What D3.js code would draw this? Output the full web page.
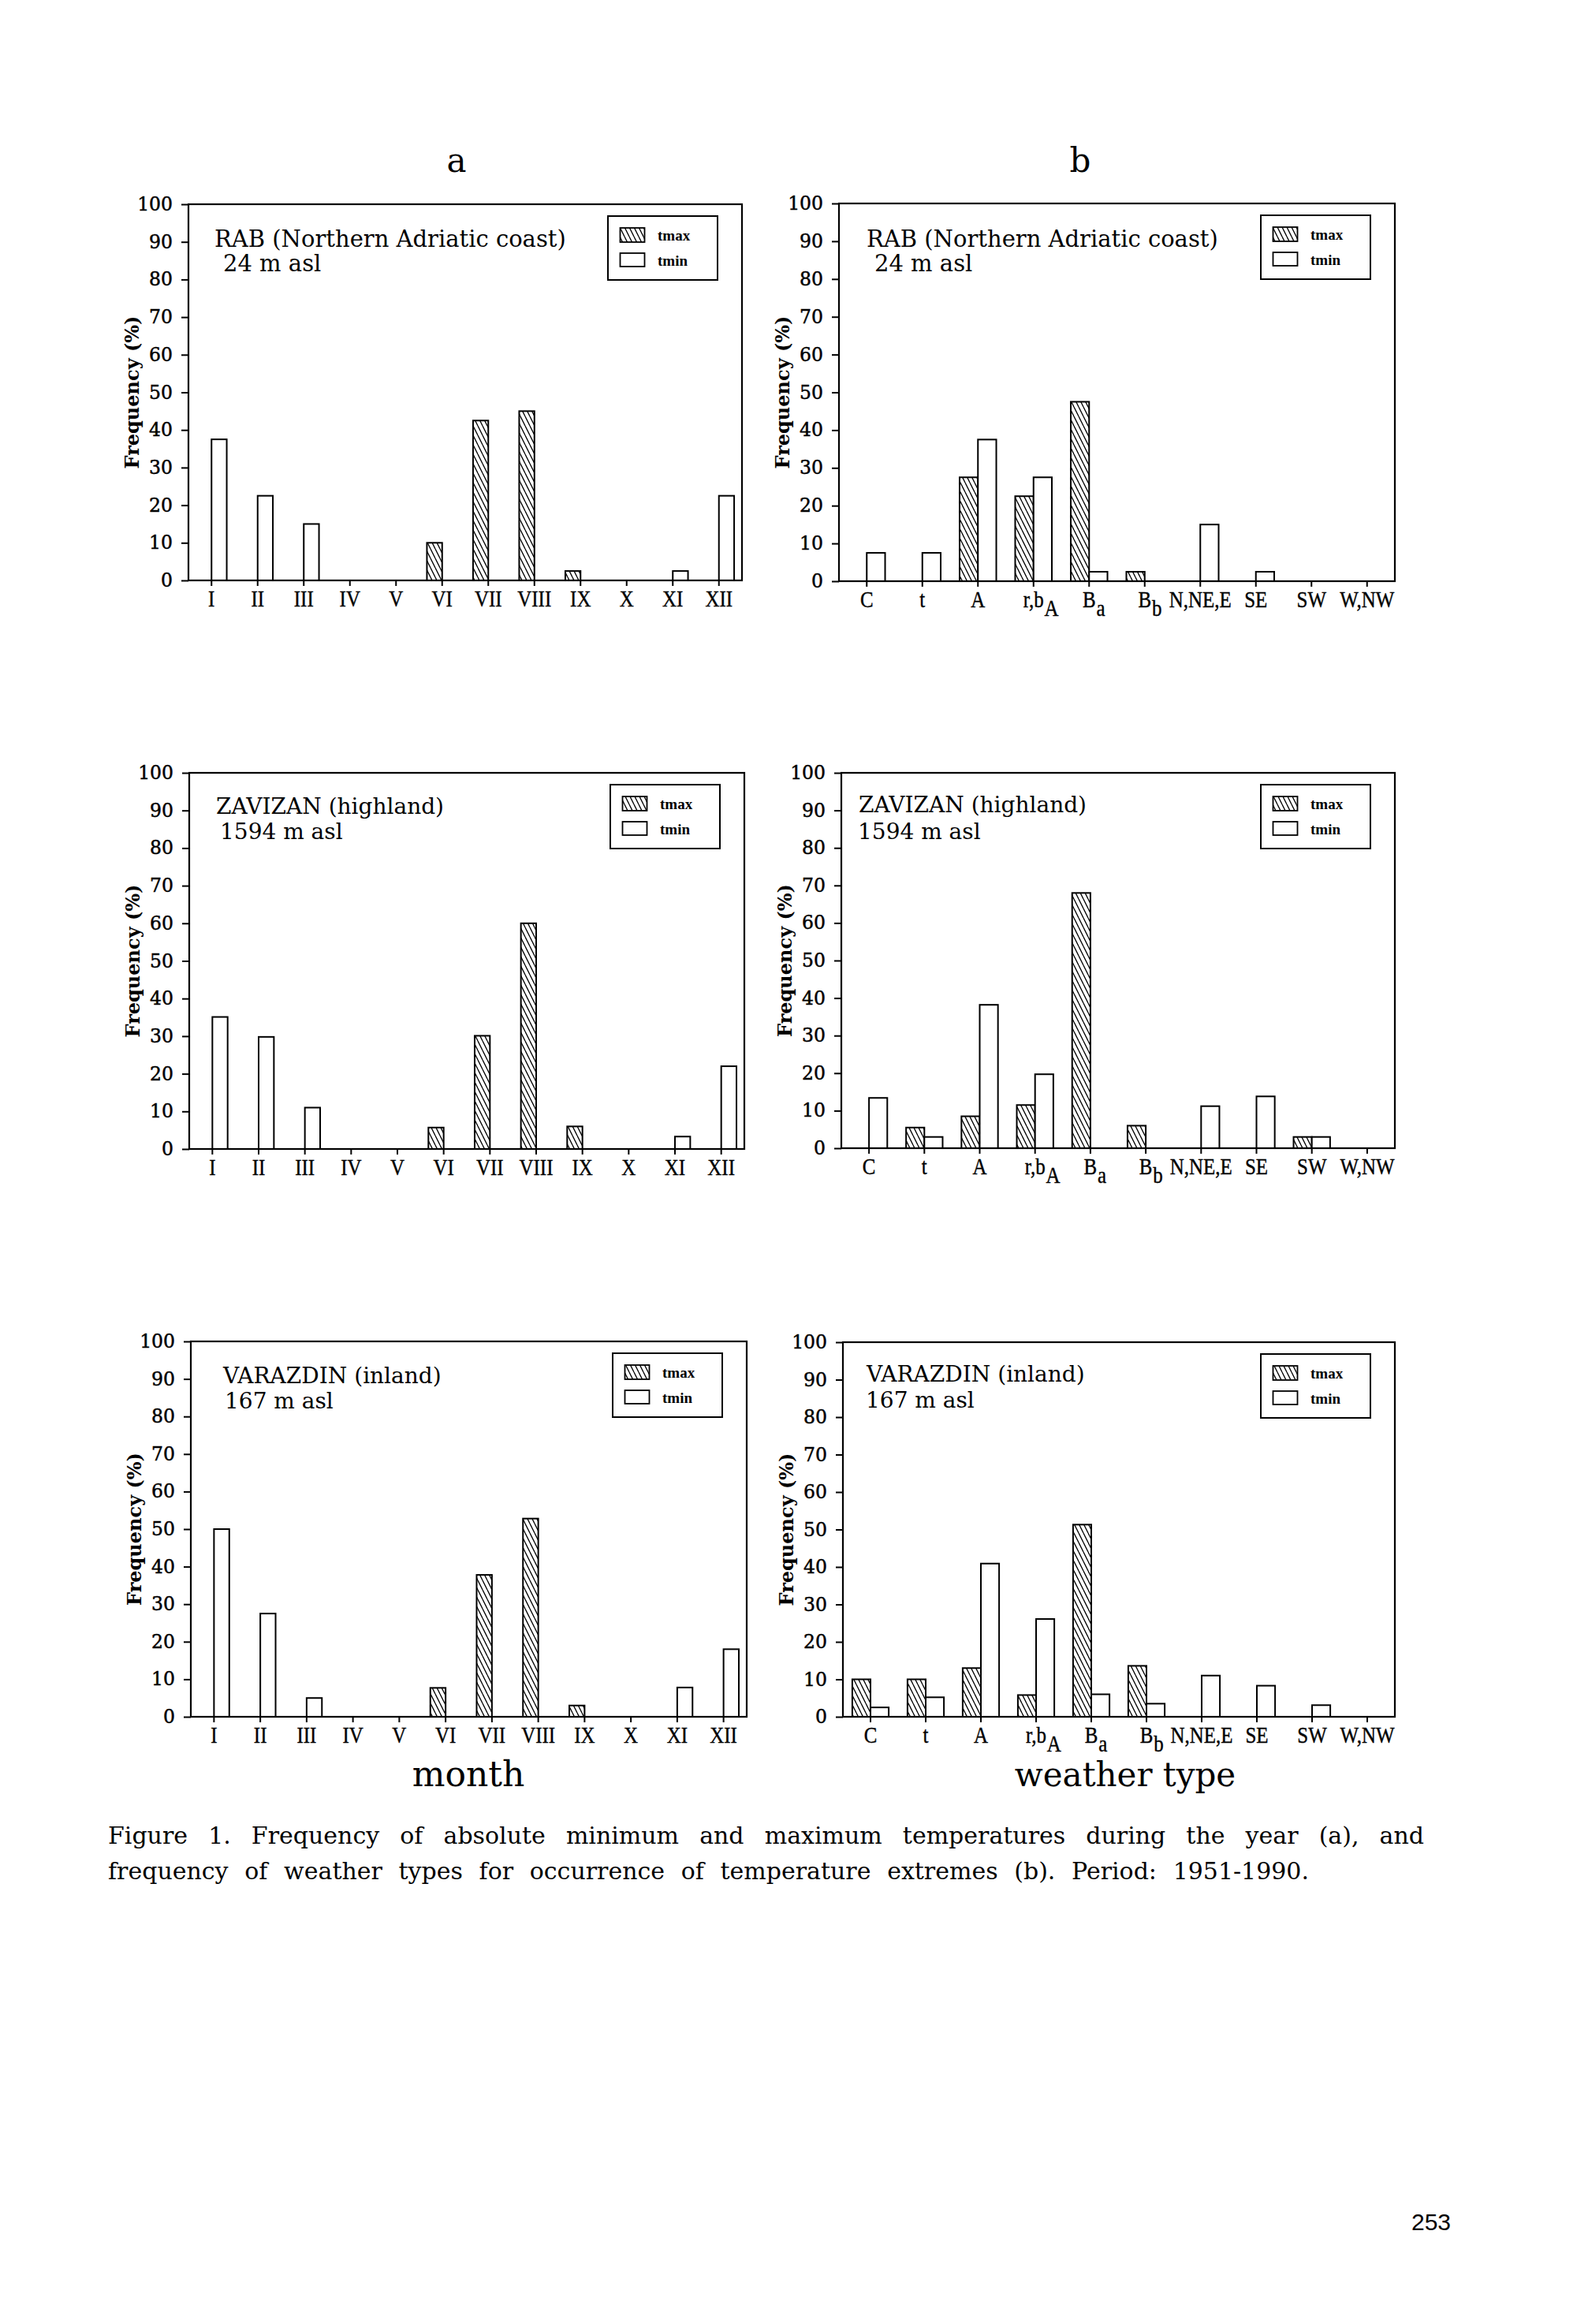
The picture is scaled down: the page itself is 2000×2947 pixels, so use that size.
<!DOCTYPE html>
<html><head><meta charset="utf-8">
<script src="https://cdn.jsdelivr.net/npm/d3@7"></script>
<style>html,body{margin:0;padding:0;background:#fff;} svg{display:block;}</style>
</head><body>
<svg id="fig" width="2000" height="2947"></svg>
<script>
// ---------- data ----------
const months = ["I","II","III","IV","V","VI","VII","VIII","IX","X","XI","XII"];
const weatherTypes = ["C","t","A","r,b_A","B_a","B_b","N,NE,E","SE","SW","W,NW"];
const yTickValues = [0,10,20,30,40,50,60,70,80,90,100];
const seriesNames = ["tmax","tmin"];
const columnTitles = ["a","b"];
const axisTitles = ["month","weather type"];
const yAxisTitle = "Frequency (%)";
const stationNames = ["RAB (Northern Adriatic coast)","ZAVIZAN (highland)","VARAZDIN (inland)"];
const stationAltitudes = ["24 m asl","1594 m asl","167 m asl"];
const captionLines = [
  "Figure 1. Frequency of absolute minimum and maximum temperatures during the year (a), and",
  "frequency of weather types for occurrence of temperature extremes (b). Period: 1951-1990."
];
const pageNumber = "253";

// month panels (a)
const rabMonthTmax      = [0,0,0,0,0,10,42.5,45,2.5,0,0,0];
const rabMonthTmin      = [37.5,22.5,15,0,0,0,0,0,0,0,2.5,22.5];
const zavizanMonthTmax  = [0,0,0,0,0,5.7,30.1,60,6,0,0,0];
const zavizanMonthTmin  = [35.1,29.8,11,0,0,0,0,0,0,0,3.3,22];
const varazdinMonthTmax = [0,0,0,0,0,7.7,37.8,52.8,3,0,0,0];
const varazdinMonthTmin = [50,27.5,5,0,0,0,0,0,0,0,7.8,18];
// weather-type panels (b)
const rabTypeTmax      = [0,0,27.5,22.5,47.5,2.5,0,0,0,0];
const rabTypeTmin      = [7.5,7.5,37.5,27.5,2.5,0,15,2.5,0,0];
const zavizanTypeTmax  = [0,5.5,8.5,11.5,68,6,0,0,3,0];
const zavizanTypeTmin  = [13.4,3,38.2,19.7,0,0,11.2,13.8,3,0];
const varazdinTypeTmax = [10,10,13,5.8,51.3,13.6,0,0,0,0];
const varazdinTypeTmin = [2.5,5.2,40.9,26.1,6,3.5,11,8.3,3.1,0];

// ---------- layout ----------
const panels = [
  {cats:months, tmax:rabMonthTmax, tmin:rabMonthTmin, st:0, f:[239,259,941,736], l1:[33,54], l2:[44,85]},
  {cats:weatherTypes, tmax:rabTypeTmax, tmin:rabTypeTmin, st:0, f:[1064,258,1769,737], l1:[35,55], l2:[45,86]},
  {cats:months, tmax:zavizanMonthTmax, tmin:zavizanMonthTmin, st:1, f:[240,980,944,1457], l1:[34,52], l2:[39,84]},
  {cats:weatherTypes, tmax:zavizanTypeTmax, tmin:zavizanTypeTmin, st:1, f:[1067,980,1769,1456], l1:[22,50], l2:[21,84]},
  {cats:months, tmax:varazdinMonthTmax, tmin:varazdinMonthTmin, st:2, f:[242,1701,947,2177], l1:[41,53], l2:[43,85]},
  {cats:weatherTypes, tmax:varazdinTypeTmax, tmin:varazdinTypeTmin, st:2, f:[1069,1702,1769,2177], l1:[30,50], l2:[29,83]}
];
const stationFont = [29, 28, 28];

const SERIF = "'DejaVu Serif', serif";
const TSERIF = "'Liberation Serif', 'Times New Roman', serif";

const svg = d3.select("#fig");
svg.append("rect").attr("width",2000).attr("height",2947).attr("fill","#fff");

const defs = svg.append("defs");
const pat = defs.append("pattern").attr("id","hatch").attr("patternUnits","userSpaceOnUse")
  .attr("width",6).attr("height",12);
pat.append("rect").attr("width",6).attr("height",12).attr("fill","#fff");
pat.append("path").attr("d","M-6,0L0,12M0,0L6,12M6,0L12,12").attr("stroke","#000").attr("stroke-width",1.3);

function drawPanel(p) {
  const [x0,y0,x1,y1] = p.f;
  const g = svg.append("g");
  const x = d3.scaleBand().domain(d3.range(p.cats.length)).range([x0,x1]);
  const y = d3.scaleLinear().domain([0,100]).range([y1,y0]);
  const bw = x.step()*0.33;
  const cx = i => x(i) + x.bandwidth()/2;

  g.selectAll("rect.tmax").data(p.tmax.map((v,i)=>({v,i})).filter(d=>d.v>0)).join("rect")
    .attr("class","tmax")
    .attr("x", d => cx(d.i) - bw).attr("y", d => y(d.v))
    .attr("width", bw).attr("height", d => y(0)-y(d.v))
    .attr("fill","url(#hatch)").attr("stroke","#000").attr("stroke-width",2);
  g.selectAll("rect.tmin").data(p.tmin.map((v,i)=>({v,i})).filter(d=>d.v>0)).join("rect")
    .attr("class","tmin")
    .attr("x", d => cx(d.i)).attr("y", d => y(d.v))
    .attr("width", bw).attr("height", d => y(0)-y(d.v))
    .attr("fill","#fff").attr("stroke","#000").attr("stroke-width",2);

  // frame
  g.append("rect").attr("x",x0).attr("y",y0).attr("width",x1-x0).attr("height",y1-y0)
    .attr("fill","none").attr("stroke","#000").attr("stroke-width",2.2);

  // y axis
  const ya = g.append("g").attr("transform",`translate(${x0},0)`)
    .call(d3.axisLeft(y).tickValues(yTickValues).tickSize(9).tickPadding(11));
  ya.select(".domain").remove();
  ya.selectAll("line").attr("stroke","#000").attr("stroke-width",2);
  ya.selectAll("text").attr("font-family",SERIF).attr("font-size",23.5).attr("fill","#000")
    .attr("stroke","#000").attr("stroke-width",0.5);

  // x axis ticks
  const xa = g.append("g").attr("transform",`translate(0,${y1})`)
    .call(d3.axisBottom(x).tickSize(7).tickFormat(""));
  xa.select(".domain").remove();
  xa.selectAll("line").attr("stroke","#000").attr("stroke-width",2);

  // x labels (with subscripts), slightly condensed
  const sx = 0.86;
  p.cats.forEach((c,i) => {
    const parts = c.split("_");
    const lg = g.append("g").attr("transform",`translate(${cx(i)},${y1+33}) scale(${sx},1)`);
    const t = lg.append("text").attr("x",0).attr("y",0)
      .attr("text-anchor","middle").attr("font-family",TSERIF).attr("font-size",29).attr("fill","#000")
      .attr("stroke","#000").attr("stroke-width",0.4)
      .text(parts[0]);
    if (parts[1]) {
      const w = t.node().getComputedTextLength();
      lg.append("text").attr("x",w/2+1).attr("y",11)
        .attr("font-family",TSERIF).attr("font-size",29).attr("fill","#000")
        .attr("stroke","#000").attr("stroke-width",0.4).text(parts[1]);
    }
  });

  // y title
  g.append("text").attr("transform",`translate(${x0-63},${(y0+y1)/2}) rotate(-90)`)
    .attr("text-anchor","middle").attr("font-family",SERIF).attr("font-weight","bold")
    .attr("font-size",24).attr("fill","#000").text(yAxisTitle);

  // station labels
  g.append("text").attr("x",x0+p.l1[0]).attr("y",y0+p.l1[1]).attr("font-family",SERIF)
    .attr("font-size",stationFont[p.st]).attr("fill","#000").text(stationNames[p.st]);
  g.append("text").attr("x",x0+p.l2[0]).attr("y",y0+p.l2[1]).attr("font-family",SERIF)
    .attr("font-size",stationFont[p.st]).attr("fill","#000").text(stationAltitudes[p.st]);

  // legend
  const lx = x1-31-139, ly = y0+15;
  const lg = g.append("g");
  lg.append("rect").attr("x",lx).attr("y",ly).attr("width",139).attr("height",81)
    .attr("fill","#fff").attr("stroke","#000").attr("stroke-width",2);
  lg.append("rect").attr("x",lx+15.5).attr("y",ly+15).attr("width",31).attr("height",18)
    .attr("fill","url(#hatch)").attr("stroke","#000").attr("stroke-width",1.8);
  lg.append("rect").attr("x",lx+15.5).attr("y",ly+47).attr("width",31).attr("height",17)
    .attr("fill","#fff").attr("stroke","#000").attr("stroke-width",1.8);
  seriesNames.forEach((s,k) => {
    lg.append("text").attr("x",lx+63).attr("y",ly+31+k*32).attr("font-family",TSERIF)
      .attr("font-weight","bold").attr("font-size",19).attr("fill","#000").text(s);
  });
}
panels.forEach(drawPanel);

// column titles
svg.selectAll("text.coltitle").data(columnTitles).join("text").attr("class","coltitle")
  .attr("x",(d,i)=>[579,1370][i]).attr("y",218).attr("text-anchor","middle")
  .attr("font-family",SERIF).attr("font-size",42).attr("fill","#000").text(d=>d);

// axis titles
svg.selectAll("text.axtitle").data(axisTitles).join("text").attr("class","axtitle")
  .attr("x",(d,i)=>[594,1427][i]).attr("y",2265).attr("text-anchor","middle")
  .attr("font-family",SERIF).attr("font-size",(d,i)=>[44,42][i]).attr("fill","#000").text(d=>d);

// caption
const capTargets = [1669, 1523];
captionLines.forEach((line,k) => {
  const t = svg.append("text").attr("x",137).attr("y",2338+k*45)
    .attr("font-family",SERIF).attr("font-size",30).attr("fill","#000").text(line);
  const w = t.node().getComputedTextLength();
  const n = line.split(" ").length-1;
  if (w < capTargets[k]) t.attr("word-spacing", (capTargets[k]-w)/n);
  else t.attr("textLength", capTargets[k]).attr("lengthAdjust","spacingAndGlyphs");
});

// page number
svg.append("text").attr("x",1790).attr("y",2828).attr("font-family","'Liberation Sans', Arial, sans-serif")
  .attr("font-size",30).attr("fill","#000").text(pageNumber);
</script>
</body></html>
